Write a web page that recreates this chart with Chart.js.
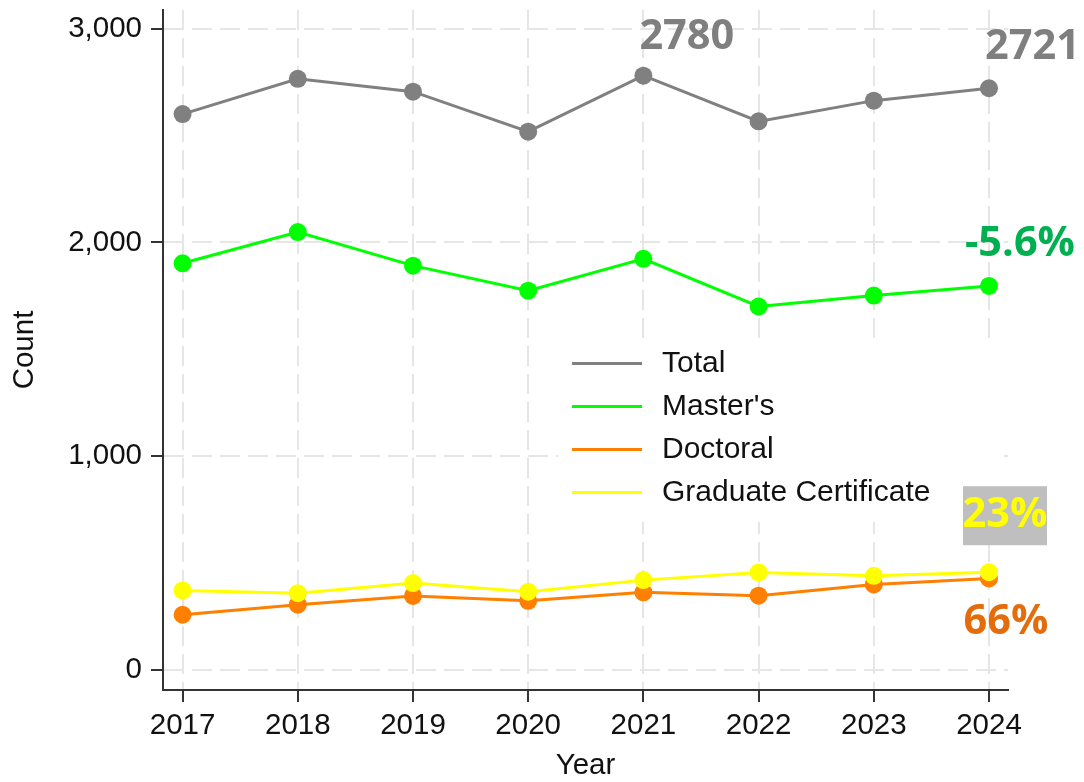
<!DOCTYPE html>
<html>
<head>
<meta charset="utf-8">
<script src="https://cdn.jsdelivr.net/npm/chart.js@4.4.1/dist/chart.umd.min.js"></script>
<style>
  html, body { margin: 0; padding: 0; background: #fff; }
  canvas { display: block; }
</style>
</head>
<body>
<canvas id="lineChart" width="1084" height="782"></canvas>
<script>
// data
var years = [2017, 2018, 2019, 2020, 2021, 2022, 2023, 2024];
var total = [2600, 2765, 2705, 2518, 2780, 2566, 2663, 2721];
var masters = [1902, 2048, 1891, 1774, 1923, 1700, 1751, 1796];
var doctoral = [258, 305, 346, 323, 363, 347, 400, 428];
var gradCert = [372, 359, 406, 366, 420, 456, 440, 457];
var yTicks = [0, 1000, 2000, 3000];
var seriesNames = ["Total", "Master's", "Doctoral", "Graduate Certificate"];
var seriesColors = ["#808080", "#00ff00", "#ff7f00", "#ffff00"];
var peakLabel = "2780";
var lastLabel = "2721";
var mastersChange = "-5.6%";
var certChange = "23%";
var doctoralChange = "66%";

var tickFont = { size: 29.5, family: '"Liberation Sans", Arial, sans-serif' };
var noteFont = 'bold 41.5px "Open Sans", sans-serif';

function points(vals) {
    return years.map(function (yr, i) { return { x: yr, y: vals[i] }; });
}

function series(i, vals, order, width) {
    return {
        label: seriesNames[i],
        data: points(vals),
        borderColor: seriesColors[i],
        backgroundColor: seriesColors[i],
        pointBackgroundColor: seriesColors[i],
        borderWidth: width,
        pointRadius: 9,
        pointBorderWidth: 0,
        order: order,
    };
}

// legend box inside the plot + the big coloured notes
var decorations = {
    id: 'decorations',
    beforeDatasetsDraw: function (chart) {
        var c = chart.ctx;
        c.save();
        c.fillStyle = '#ffffff';
        c.fillRect(558, 340, 442, 182);
        c.font = '30px "Liberation Sans", Arial, sans-serif';
        c.textBaseline = 'middle';
        seriesNames.forEach(function (name, i) {
            var y = 363.5 + i * 43;
            c.strokeStyle = seriesColors[i];
            c.lineWidth = 3;
            c.beginPath();
            c.moveTo(572, y);
            c.lineTo(642, y);
            c.stroke();
            c.fillStyle = '#111111';
            c.textAlign = 'left';
            c.fillText(name, 662, y);
        });
        c.restore();
    },
    afterDatasetsDraw: function (chart) {
        var xs = chart.scales.x, ys = chart.scales.y, c = chart.ctx;
        var last = years.length - 1;
        var xEnd = xs.getPixelForValue(years[last]);
        var xPeak = xs.getPixelForValue(years[4]);
        c.save();
        c.font = noteFont;
        c.textBaseline = 'middle';

        c.fillStyle = '#7f7f7f';
        c.textAlign = 'left';
        c.fillText(peakLabel, xPeak - 4, ys.getPixelForValue(total[4]) - 38);
        c.fillText(lastLabel, xEnd - 4, ys.getPixelForValue(total[last]) - 41);

        c.fillStyle = '#00b050';
        c.textAlign = 'center';
        c.fillText(mastersChange, xEnd + 31, ys.getPixelForValue(masters[last]) - 42);

        var yc = ys.getPixelForValue(gradCert[last]) - 57;
        c.fillStyle = '#bfbfbf';
        c.fillRect(xEnd - 26, yc - 29, 84, 59);
        c.fillStyle = '#ffff00';
        c.fillText(certChange, xEnd + 16, yc);

        c.fillStyle = '#e46c0a';
        c.fillText(doctoralChange, xEnd + 17, ys.getPixelForValue(doctoral[last]) + 44);
        c.restore();
    }
};

var ctx = document.getElementById("lineChart").getContext("2d");

var myChart = new Chart(ctx, {
    type: "line",
    data: {
        datasets: [
            series(0, total, 3, 3),
            series(1, masters, 2, 3),
            series(2, doctoral, 1, 3),
            series(3, gradCert, 0, 3),
        ],
    },
    options: {
        responsive: false,
        animation: false,
        layout: { padding: { top: 10, right: 76, left: 0, bottom: 0 } },
        plugins: {
            legend: { display: false },
            tooltip: { enabled: false },
        },
        scales: {
            x: {
                type: 'linear',
                min: 2016.83,
                max: 2024.165,
                afterBuildTicks: function (scale) {
                    scale.ticks = years.map(function (v) { return { value: v }; });
                },
                afterFit: function (scale) {
                    scale.height = 92;
                    scale.paddingLeft = 0;
                    scale.paddingRight = 0;
                },
                grid: {
                    color: '#e6e6e6',
                    lineWidth: 2,
                    tickLength: 12,
                    tickColor: '#333333',
                    tickWidth: 2,
                },
                border: { color: '#333333', width: 2, dash: [20, 8] },
                ticks: {
                    autoSkip: false,
                    maxRotation: 0,
                    padding: 6,
                    color: '#111111',
                    font: tickFont,
                    callback: function (value) { return String(value); },
                },
                title: {
                    display: true,
                    text: 'Year',
                    color: '#111111',
                    font: { size: 29.5, family: tickFont.family, lineHeight: 1 },
                    padding: { top: 0, bottom: 1 },
                },
            },
            y: {
                min: -94,
                max: 3087,
                afterBuildTicks: function (scale) {
                    scale.ticks = yTicks.map(function (v) { return { value: v }; });
                },
                afterFit: function (scale) {
                    scale.width = 163;
                    scale.paddingTop = 0;
                    scale.paddingBottom = 0;
                },
                grid: {
                    color: '#e6e6e6',
                    lineWidth: 2,
                    tickLength: 12,
                    tickColor: '#333333',
                    tickWidth: 2,
                },
                border: { color: '#333333', width: 2, dash: [20, 8] },
                ticks: {
                    padding: 9,
                    color: '#111111',
                    font: tickFont,
                    callback: function (value) { return value.toLocaleString('en-US'); },
                },
                title: {
                    display: true,
                    text: 'Count',
                    color: '#111111',
                    font: { size: 29.5, family: tickFont.family, lineHeight: 1 },
                    padding: { top: 10, bottom: 0 },
                },
            },
        },
    },
    plugins: [decorations],
});
</script>
</body>
</html>
